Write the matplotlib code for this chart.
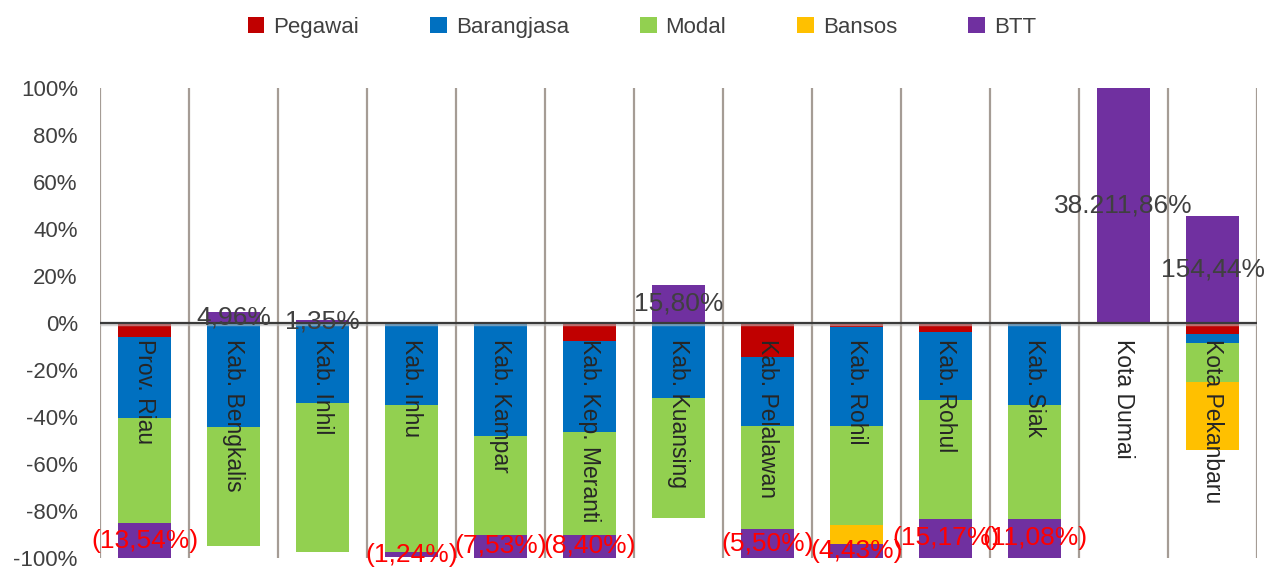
import numpy as np
import matplotlib
matplotlib.use("Agg")
import matplotlib.pyplot as plt
from matplotlib.patches import Patch

plt.rcParams['font.family'] = ['Liberation Sans', 'DejaVu Sans']

categories = ["Prov. Riau", "Kab. Bengkalis", "Kab. Inhil", "Kab. Inhu", "Kab. Kampar",
              "Kab. Kep. Meranti", "Kab. Kuansing", "Kab. Pelalawan", "Kab. Rohil",
              "Kab. Rohul", "Kab. Siak", "Kota Dumai", "Kota Pekanbaru"]

# share of each component in the 100% stacked column (percent, signed)
pegawai = [-5.8, -0.4, -0.3, 0, 0, -7.8, -0.5, -14.6, -1.8, -4.0, 0, 0, -4.7]
barangjasa = [-34.8, -44.0, -33.6, -34.8, -48.2, -38.7, -31.4, -29.1, -41.9, -29.0, -34.9, 0, -4.0]
modal = [-44.6, -50.4, -63.7, -62.8, -41.9, -43.6, -51.2, -44.2, -42.5, -50.4, -48.5, 0, -16.5]
bansos = [0, 0, 0, 0, 0, 0, 0, 0, -7.8, 0, 0, 0, -28.8]
btt = [-14.8, 4.8, 1.4, -2.1, -9.9, -9.9, 16.2, -12.1, -6.0, -16.6, -16.6, 100, 45.4]

# growth of BTT shown as data labels
btt_growth = [-13.54, 4.96, 1.35, -1.24, -7.53, -8.40, 15.80, -5.50, -4.43, -15.17, -11.08,
              38211.86, 154.44]

series = [("Pegawai", pegawai, "#C00000"),
          ("Barangjasa", barangjasa, "#0070C0"),
          ("Modal", modal, "#92D050"),
          ("Bansos", bansos, "#FFC000"),
          ("BTT", btt, "#7030A0")]


def fmt_id(v):
    s = f"{abs(v):,.2f}".replace(",", "#").replace(".", ",").replace("#", ".")
    return f"({s}%)" if v < 0 else f"{s}%"


fig = plt.figure(figsize=(12.71, 5.67), dpi=100)
ax = fig.add_axes([0.0787, 0.016, 0.9103, 0.829])

x = np.arange(len(categories))
width = 0.585
pos_base = np.zeros(len(categories))
neg_base = np.zeros(len(categories))
btt_centers = np.zeros(len(categories))

for name, vals, color in series:
    vals = np.array(vals, dtype=float)
    bottom = np.where(vals >= 0, pos_base, neg_base)
    ax.bar(x, vals, width, bottom=bottom, color=color, zorder=3)
    if name == "BTT":
        btt_centers = bottom + vals / 2
    pos_base = pos_base + np.where(vals > 0, vals, 0)
    neg_base = neg_base + np.where(vals < 0, vals, 0)

# vertical separators between categories
for b in np.arange(len(categories) + 1) - 0.5:
    ax.axvline(b, color="#A59C95", lw=1.6, zorder=1)

# zero line with a soft shadow
ax.axhline(-0.6, color="#BBBBBB", lw=2.5, zorder=4, alpha=0.6)
ax.axhline(0, color="#3A3A3A", lw=1.6, zorder=5)

# category names inside the bars
for xi, cat in zip(x, categories):
    ax.text(xi, -7.0, cat, rotation=270, ha="center", va="top", fontsize=16.5,
            color="#262626", zorder=6)

# BTT data labels
for xi, yc, v in zip(x, btt_centers, btt_growth):
    ax.text(xi, yc, fmt_id(v), ha="center", va="center", fontsize=19,
            color="#FF0000" if v < 0 else "#404040", zorder=7, clip_on=False)

ax.set_xlim(-0.5, len(categories) - 0.5)
ax.set_ylim(-100, 100)
ax.set_yticks(np.arange(-100, 101, 20))
ax.set_yticklabels([f"{t}%" for t in range(-100, 101, 20)], fontsize=16, color="#404040")
ax.set_xticks([])
ax.tick_params(axis="y", length=0, pad=16)
for sp in ax.spines.values():
    sp.set_visible(False)

handles = [Patch(facecolor=c, label=n) for n, _, c in series]
fig.legend(handles=handles, loc="center", bbox_to_anchor=(0.505, 0.952), ncol=5,
           frameon=False, fontsize=16, handlelength=0.75, handleheight=0.75,
           handletextpad=0.4, columnspacing=3.2, labelcolor="#404040")

fig.savefig("out.png", dpi=100)
